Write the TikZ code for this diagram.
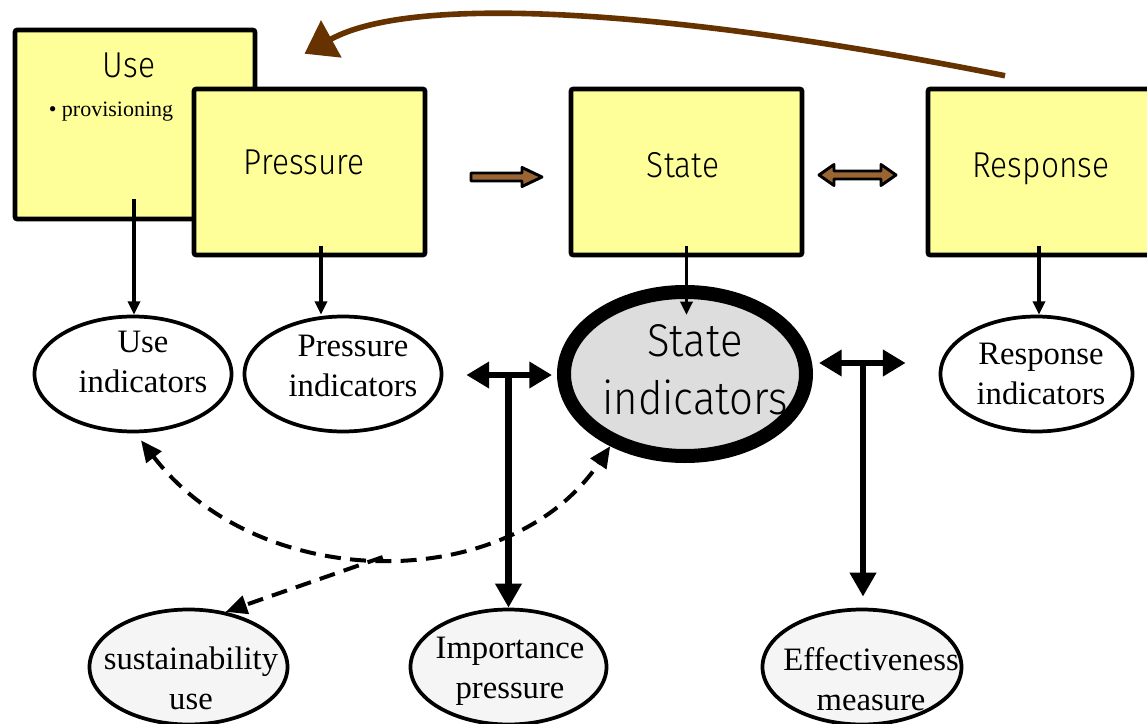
\documentclass[tikz,border=0pt]{standalone}
\usepackage{fontspec}
\setmainfont{Liberation Serif}
\newfontfamily\boxfont{Fira Sans Light}[FakeStretch=0.88]
\newfontfamily\bigfont{Fira Sans Light}[FakeStretch=0.91]
\usetikzlibrary{arrows.meta,shapes.geometric,calc}
\definecolor{boxyellow}{HTML}{FFFF99}
\definecolor{curvebrown}{RGB}{102,51,0}
\definecolor{blockbrown}{RGB}{153,102,51}
\definecolor{stategray}{HTML}{DDDDDD}
\definecolor{lowgray}{HTML}{F5F5F5}
\begin{document}
\begin{tikzpicture}[x=0.75pt,y=-0.75pt,
  stagebox/.style={draw=black,line width=3.4pt,fill=boxyellow,rounded corners=1.5pt,inner sep=0pt,minimum width=173.25pt,minimum height=124.5pt},
  boxlabel/.style={font=\boxfont\fontsize{27}{32}\selectfont,inner sep=0pt},
  ind/.style={ellipse,draw=black,line width=2.8pt,fill=white,inner sep=0pt,minimum width=147.75pt,minimum height=86.25pt},
  lowind/.style={ind,fill=lowgray},
  indlabel/.style={font=\fontsize{24.5}{30}\selectfont,align=center,inner sep=0pt},
  thinarr/.style={line width=2.6pt,-{Triangle[length=10pt,width=9pt]}},
  bigarr/.style={line width=4.8pt,-{Triangle[length=18pt,width=19pt]}},
  bigdbl/.style={line width=4.8pt,{Triangle[length=17pt,width=19pt]}-{Triangle[length=17pt,width=19pt]}},
  dasharr/.style={line width=3pt,dash pattern=on 12pt off 7pt},
  blockarr/.style={draw=black,line width=2.2pt,line join=round,fill=blockbrown}
]
\useasboundingbox (0,0) rectangle (1147,724);
\clip (0,0) rectangle (1147,724);
\fill[white] (0,0) rectangle (1147,724);

% stage boxes
\node[stagebox,minimum width=180pt,minimum height=141.75pt] (ubox) at (135,124.5) {};
\node[boxlabel] (usetxt) at (129,65.5) {Use};
\node[font=\fontsize{16.5}{20}\selectfont,inner sep=0pt] (provtxt) at (111,112) {• provisioning};
\node[stagebox] (pbox) at (309.5,172) {};
\node[boxlabel] (prtxt) at (304,162) {Pressure};
\node[stagebox] (sbox) at (686.5,172) {};
\node[boxlabel] (sttxt) at (683,165) {State};
\node[stagebox] (rbox) at (1043.5,172) {};
\node[boxlabel] (retxt) at (1041,169) {Response};

% block arrows between boxes
\path[blockarr] (471,173) -- (522,173) -- (522,167.5) -- (542,177) -- (522,186.5) -- (522,181) -- (471,181) -- cycle;
\path[blockarr] (819,175) -- (834,164.5) -- (834,171) -- (881,171) -- (881,164.5) -- (896,175) -- (881,185.5) -- (881,179) -- (834,179) -- (834,185.5) -- cycle;

% indicator ellipses
\node[ind] (uind) at (133,374) {};
\node[indlabel] (uindtxt) at (143,361.5) {Use\\indicators};
\node[ind] (pind) at (343,374) {};
\node[indlabel] (pindtxt) at (353,366) {Pressure\\indicators};
\node[ind,minimum width=144pt] (rind) at (1036.5,374) {};
\node[indlabel] (rindtxt) at (1041,374) {Response\\indicators};
\node[ellipse,draw=black,line width=10.5pt,fill=stategray,inner sep=0pt,minimum width=181.5pt,minimum height=123pt] (sind) at (685,374) {};
\node[font=\bigfont\fontsize{34.5}{43.5}\selectfont,align=center,inner sep=0pt] (sindtxt) at (695,370) {State\\indicators};

\node[lowind,minimum width=148.5pt] (sus) at (188.5,667) {};
\node[indlabel] (sustxt) at (191,678.5) {sustainability\\use};
\node[lowind,minimum width=147pt] (imp) at (508.5,667) {};
\node[indlabel] (imptxt) at (510,671) {Importance\\pressure};
\node[lowind,minimum width=149.25pt] (eff) at (862,667) {};
\node[indlabel] (efftxt) at (871,679) {Effectiveness\\measure};

% box -> indicator arrows
\draw[thinarr] ([shift={(-1,-22)}]ubox.south) coordinate (ustart) -- (ustart |- uind.north);
\draw[thinarr] ([shift={(11.5,-11)}]pbox.south) coordinate (pstart) -- (pstart |- pind.north);
\draw[thinarr] ([shift={(0,-11)}]sbox.south) coordinate (sstart) -- ([shift={(1.5,30)}]sind.north);
\draw[thinarr] ([shift={(-4.5,-11)}]rbox.south) coordinate (rstart) -- (rstart |- rind.north);

% dashed links
\draw[dasharr,{Triangle[length=16pt,width=14pt]}-{Triangle[length=16pt,width=14pt]}] ([shift={(8,7)}]uind.south) .. controls (260,595) and (510,595) .. (sind.224) coordinate[pos=0.5] (junc);
\draw[dasharr,-{Triangle[length=16pt,width=14pt]}] (junc) -- (sus.56);

% big double arrows with stems
\draw[bigdbl] ([shift={(23,1)}]pind.east) -- ([shift={(-5,1)}]sind.west);
\draw[bigarr] (imp.north |- pind.east) -- (imp.north);
\draw[bigdbl] ([shift={(6,-11)}]sind.east) -- ([shift={(-33,-11)}]rind.west);
\draw[bigarr] ([shift={(1,-245)}]eff.north) -- ([shift={(1,-11)}]eff.north);

% feedback curve
\draw[curvebrown,line width=4.2pt,-{Triangle[length=23pt,width=31pt]}] ([shift={(-38.5,-11)}]rbox.north) .. controls (700,15) and (420,-10) .. ([shift={(-5,-33)}]pbox.north);
\end{tikzpicture}
\end{document}
